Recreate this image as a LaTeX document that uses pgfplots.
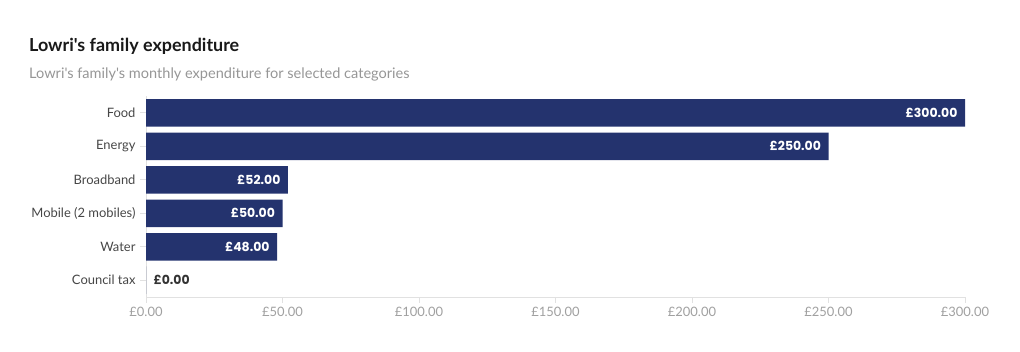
\documentclass[border=0pt]{standalone}
\usepackage{fontspec}
\setmainfont{Lato}[Ligatures=TeXOff]
\newfontfamily\valfont{Poppins}
\usepackage{pgfplots}
\pgfplotsset{compat=1.18}
\definecolor{barblue}{RGB}{36,51,110}
\definecolor{axisgray}{RGB}{225,225,225}
\definecolor{ticklab}{RGB}{160,160,160}
\definecolor{catlab}{RGB}{70,70,70}
\definecolor{subgray}{RGB}{150,150,150}
\begin{document}
\begin{tikzpicture}
\path[use as bounding box] (0,0) rectangle (1020bp,352bp);
\node[anchor=base west, inner sep=0pt, font=\fontsize{18}{21}\selectfont\bfseries, text=black!90] at (29bp,300bp) {Lowri's family expenditure};
\node[anchor=base west, inner sep=0pt, font=\fontsize{14.6}{17}\selectfont, text=subgray] at (29bp,273bp) {Lowri's family's monthly expenditure for selected categories};
\begin{axis}[
  at={(146bp,55bp)}, anchor=south west,
  scale only axis, width=819bp, height=201bp,
  xbar, bar width=27.5bp, bar shift=0pt,
  xmin=0, xmax=300, ymin=-0.5, ymax=5.5,
  axis x line*=bottom, axis y line*=left,
  axis line style={draw=axisgray, -},
  xtick={0,50,...,300}, ytick={0,...,5},
  yticklabels={Council tax,Water,Mobile (2 mobiles),Broadband,Energy,Food},
  tick style={draw=axisgray, line width=0.8pt},
  major tick length=6bp, tick align=outside,
  /pgf/number format/assume math mode=true,
  xticklabel={£\pgfmathprintnumber[fixed,fixed zerofill,precision=2]{\tick}},
  xticklabel style={font=\fontsize{13}{15}\selectfont, text=ticklab, yshift=-1bp},
  yticklabel style={font=\fontsize{13}{15}\selectfont, text=catlab, xshift=-1bp},
  nodes near coords,
  point meta=explicit symbolic,
]
\addplot[fill=barblue, draw=none,
  every node near coord/.style={anchor=east, xshift=-4bp, text=white, font=\valfont\bfseries\fontsize{12.5}{14}\selectfont}]
  coordinates {(300,5)[£300.00] (250,4)[£250.00] (52,3)[£52.00] (50,2)[£50.00] (48,1)[£48.00]};
\addplot[fill=barblue, draw=none,
  every node near coord/.style={anchor=west, xshift=4bp, text=black!80, font=\valfont\bfseries\fontsize{12.5}{14}\selectfont}]
  coordinates {(0,0)[£0.00]};
\end{axis}
\end{tikzpicture}
\end{document}
